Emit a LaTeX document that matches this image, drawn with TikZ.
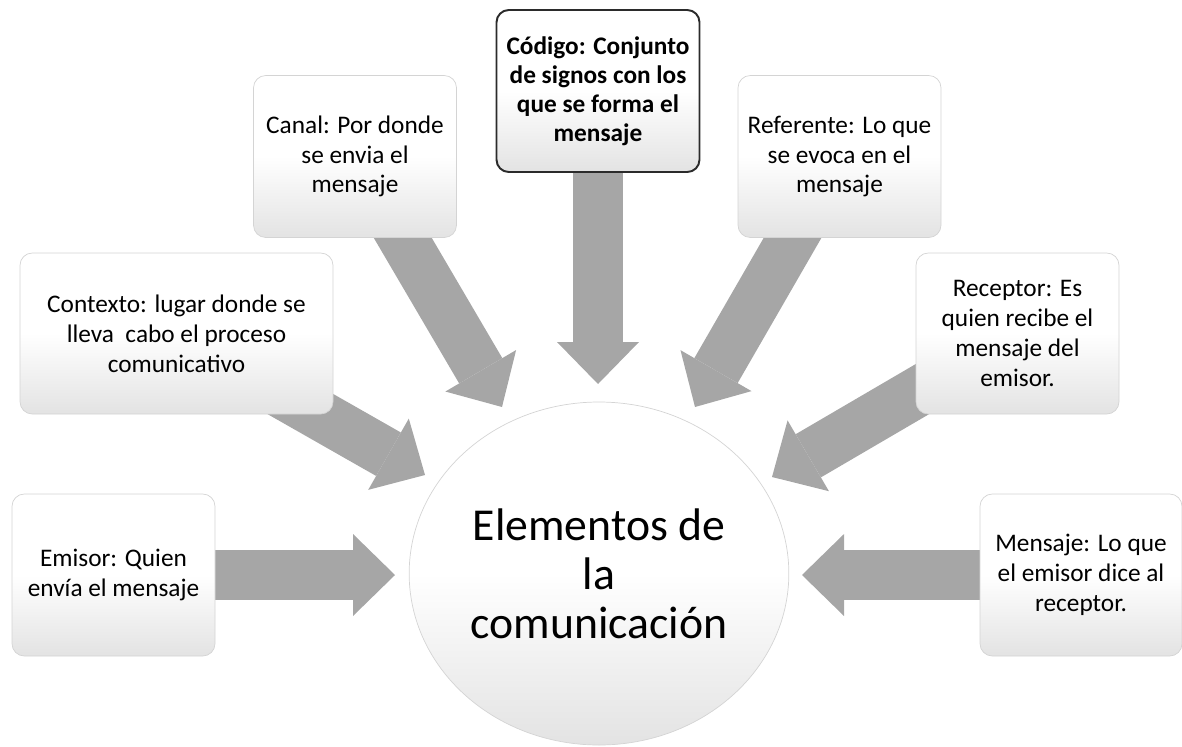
\documentclass[tikz,border=0pt]{standalone}
\usepackage{fontspec}
\setmainfont{Carlito}
\usetikzlibrary{arrows.meta,positioning,backgrounds,shapes.geometric}
\definecolor{arrgray}{HTML}{A6A6A6}
\definecolor{boxline}{HTML}{D4D4D4}
\definecolor{boxshade}{HTML}{E3E3E3}
\definecolor{darkline}{HTML}{2B2B2B}

\begin{document}
\begin{tikzpicture}[
  font=\fontsize{14.4}{17}\selectfont,
  box/.style={draw=boxline, rounded corners=7pt, align=center, inner sep=2pt,
    minimum width=4.06cm, minimum height=3.24cm,
    top color=white, bottom color=boxshade, middle color=white},
  arr/.style={arrgray, line width=1cm,
    -{Triangle[length=0.84cm, width=1.64cm, line width=0pt]}},
]
\useasboundingbox (0,0) rectangle (23.64,-14.92);

% centre
\node[ellipse, draw=boxline, minimum width=7.5cm, minimum height=6.86cm,
      top color=white, bottom color=boxshade, middle color=white,
      align=center, font=\fontsize{26}{28}\selectfont] (centro) at (11.98,-11.47)
  {Elementos de\\la\\comunicación};

% boxes round it
\node[box, draw=darkline, line width=1.1pt, font=\fontsize{14.4}{16.5}\selectfont\bfseries]
  (codigo) at (11.96,-1.82)
  {Código: Conjunto\\de signos con los\\que se forma el\\mensaje};
\node[box] (canal) at (7.10,-3.13) {Canal: Por donde\\se envia el\\mensaje};
\node[box] (referente) at (16.79,-3.13) {Referente: Lo que\\se evoca en el\\mensaje};
\node[box, minimum width=6.26cm, minimum height=3.22cm] (contexto) at (3.53,-6.67)
  {Contexto: lugar donde se\\lleva~ cabo el proceso\\comunicativo};
\node[box, minimum height=3.22cm] (receptor) at (20.35,-6.67)
  {Receptor: Es\\quien recibe el\\mensaje del\\emisor.};
\node[box] (emisor) at (2.27,-11.50) {Emisor: Quien\\envía el mensaje};
\node[box, minimum width=4.04cm] (mensaje) at (21.62,-11.50)
  {Mensaje: Lo que\\el emisor dice al\\receptor.};

% arrow tips
\coordinate (codigot) at (11.96,-7.68);
\coordinate (canalt) at (10.04,-8.14);
\coordinate (referentet) at (13.90,-8.14);
\coordinate (contextot) at (8.50,-9.50);
\coordinate (receptort) at (15.44,-9.54);
\coordinate (emisort) at (7.90,-11.50);
\coordinate (mensajet) at (16.04,-11.50);

\begin{scope}[on background layer]
\draw[arr] (codigo.center) -- (codigot);
\draw[arr] (canal.center) -- (canalt);
\draw[arr] (referente.center) -- (referentet);
\draw[arr] (contexto.center) -- (contextot);
\draw[arr] (receptor.center) -- (receptort);
\draw[arr] (emisor.center) -- (emisort);
\draw[arr] (mensaje.center) -- (mensajet);
\end{scope}
\end{tikzpicture}
\end{document}
